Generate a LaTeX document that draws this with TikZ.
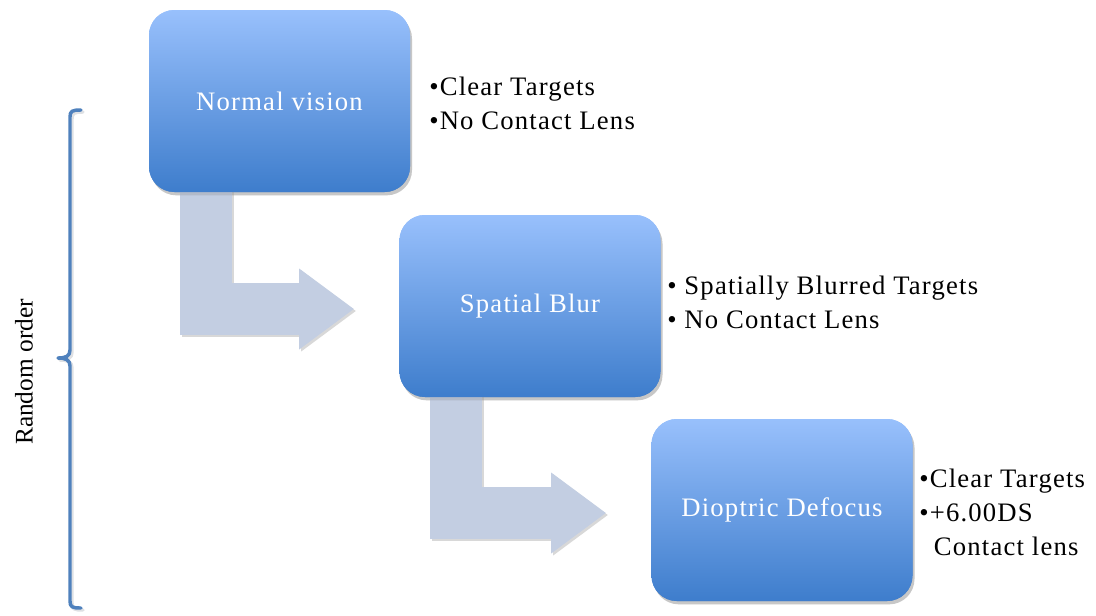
\documentclass[tikz,border=0pt]{standalone}
\usepackage{fontspec}
\setmainfont{Liberation Serif}
\newfontfamily\spacedfont[LetterSpace=4.5]{Liberation Serif}
\usetikzlibrary{arrows.meta,shadows,calc}
\definecolor{boxtop}{RGB}{152,192,252}
\definecolor{boxbot}{RGB}{62,125,204}
\definecolor{arrowfill}{RGB}{195,206,226}
\definecolor{bracecol}{RGB}{79,129,189}
\tikzset{
  stagebox/.style={rounded corners=19pt, minimum width=195.75pt, minimum height=136.5pt,
    top color=boxtop, bottom color=boxbot, draw=none, text=white,
    font=\spacedfont\fontsize{20}{24}\selectfont,
    drop shadow={shadow xshift=1.5pt, shadow yshift=-2.5pt, opacity=0.25}},
  blockarrow/.style={line width=39pt, draw=arrowfill,
    -{Triangle[width=57.75pt,length=41.25pt]}},
  blockshadow/.style={line width=39pt, draw=black!30, opacity=0.5,
    -{Triangle[width=57.75pt,length=41.25pt]}},
  bullets/.style={align=left, anchor=west, font=\spacedfont\fontsize{20}{25.5}\selectfont, inner sep=0pt},
  bracestyle/.style={draw=bracecol, line width=2.6pt, line cap=round, line join=round},
}
\begin{document}
\begin{tikzpicture}[x=0.75pt,y=-0.75pt]
\useasboundingbox (0,0) rectangle (1096,615);
% boxes (positions)
\node[stagebox] (b1) at (279.5,101) {Normal vision};
\node[stagebox] (b2) at (530,306) {Spatial Blur};
\node[stagebox] (b3) at (782,510) {Dioptric Defocus};
% arrows behind boxes
\coordinate (a1s) at ($(b1.south west)+(57,-10)$);
\coordinate (a1e) at ($(b2.west)+(-45,3)$);
\coordinate (a2s) at ($(b2.south west)+(57,-10)$);
\coordinate (a2e) at ($(b3.west)+(-45,3)$);
\draw[blockshadow] ($(a1s)+(2,2)$) |- ($(a1e)+(2,2)$);
\draw[blockarrow] (a1s) |- (a1e);
\draw[blockshadow] ($(a2s)+(2,2)$) |- ($(a2e)+(2,2)$);
\draw[blockarrow] (a2s) |- (a2e);
% redraw boxes on top
\node[stagebox] at (b1) {Normal vision};
\node[stagebox] at (b2) {Spatial Blur};
\node[stagebox] at (b3) {Dioptric Defocus};
% bullet lists
\node[bullets] (l1) at (429,103) {•Clear Targets\\•No Contact Lens};
\node[bullets] (l2) at (667,302) {• Spatially Blurred Targets\\• No Contact Lens};
\node[bullets] (l3) at (919,512) {•Clear Targets\\•+6.00DS\\\hspace*{0.55em}Contact lens};
% brace
\draw[bracecol!20!gray!40, line width=2.6pt, line cap=round, line join=round, opacity=0.6]
  (83,112) .. controls (74,112) and (72,113) .. (72,119) -- (72,352)
  .. controls (72,358) and (68,360) .. (60,360)
  .. controls (68,360) and (72,362) .. (72,368) -- (72,603)
  .. controls (72,609) and (74,610) .. (83,610);
\draw[bracestyle] (81,110) .. controls (72,110) and (70,111) .. (70,117) -- (70,350)
  .. controls (70,356) and (66,358) .. (58,358)
  .. controls (66,358) and (70,360) .. (70,366) -- (70,601)
  .. controls (70,607) and (72,608) .. (81,608);
\node[rotate=90, font=\fontsize{19}{22}\selectfont] (ro) at (24,372) {Random order};
\end{tikzpicture}
\end{document}
